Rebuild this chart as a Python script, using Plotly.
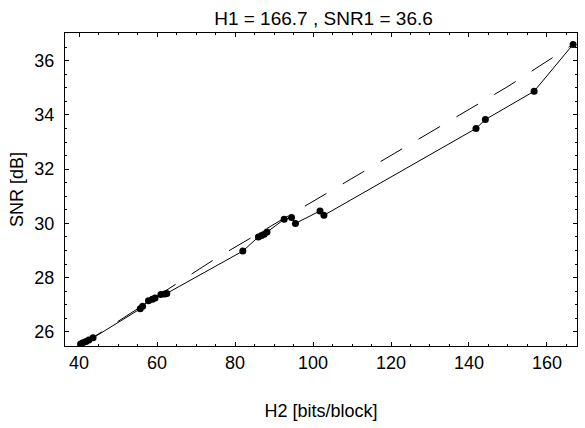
import plotly.graph_objects as go

# Measured operating points (solid line with dots)
h2 = [40.4, 41.0, 41.8, 42.5, 43.6, 55.7, 56.3, 57.8, 58.8, 59.5, 61.0, 62.0, 62.5,
      82.0, 86.0, 86.8, 87.5, 88.2, 92.6, 94.5, 95.5, 101.8, 102.8, 141.8, 144.2,
      156.7, 166.7]
snr = [25.55, 25.6, 25.65, 25.7, 25.78, 26.85, 26.95, 27.15, 27.2, 27.25, 27.38, 27.4,
       27.42, 28.98, 29.5, 29.55, 29.6, 29.68, 30.15, 30.22, 30.0, 30.46, 30.3, 33.5,
       33.83, 34.87, 36.6]

# Reference (dashed) line
h2_ref = [40.4, 75.0, 104.0, 150.0, 166.7]
snr_ref = [25.5, 28.7, 31.15, 35.05, 36.6]

title_text = "H1 = 166.7 , SNR1 = 36.6"
x_title = "H2 [bits/block]"
y_title = "SNR [dB]"
x_ticks = [40, 60, 80, 100, 120, 140, 160]
y_ticks = [26, 28, 30, 32, 34, 36]

fig = go.Figure()
fig.add_trace(go.Scatter(
    x=h2_ref, y=snr_ref, mode="lines",
    line=dict(color="black", width=1, dash="25px,19px"),
    showlegend=False, hoverinfo="skip"))
fig.add_trace(go.Scatter(
    x=h2, y=snr, mode="lines+markers",
    line=dict(color="black", width=1),
    marker=dict(color="black", size=7),
    showlegend=False))

font_family = "Liberation Sans, Arial, Helvetica, sans-serif"
axis_common = dict(
    showline=True, linecolor="black", linewidth=1.3, mirror="ticks",
    ticks="inside", ticklen=4, tickcolor="black", tickwidth=1,
    showgrid=False, zeroline=False,
    tickfont=dict(family=font_family, size=18, color="black"),
    minor=dict(ticks="inside", ticklen=2, tickcolor="black", tickwidth=1),
)

fig.update_layout(
    width=585, height=428,
    margin=dict(l=65, r=8, t=33, b=82),
    paper_bgcolor="white", plot_bgcolor="white",
    title=dict(text=title_text, x=0.553, xanchor="center", y=0.956, yanchor="middle",
               font=dict(family=font_family, size=19, color="black")),
    xaxis=dict(range=[36.4, 167.7], tickvals=x_ticks,
               title=dict(text=x_title, standoff=32,
                          font=dict(family=font_family, size=18, color="black")),
               **axis_common),
    yaxis=dict(range=[25.48, 37.02], tickvals=y_ticks, ticklabelstandoff=6,
               title=dict(text=y_title, standoff=5,
                          font=dict(family=font_family, size=18, color="black")),
               **axis_common),
)
fig.update_xaxes(minor=dict(dtick=5))
fig.update_yaxes(minor=dict(dtick=0.5))

fig.write_html("out.html")
